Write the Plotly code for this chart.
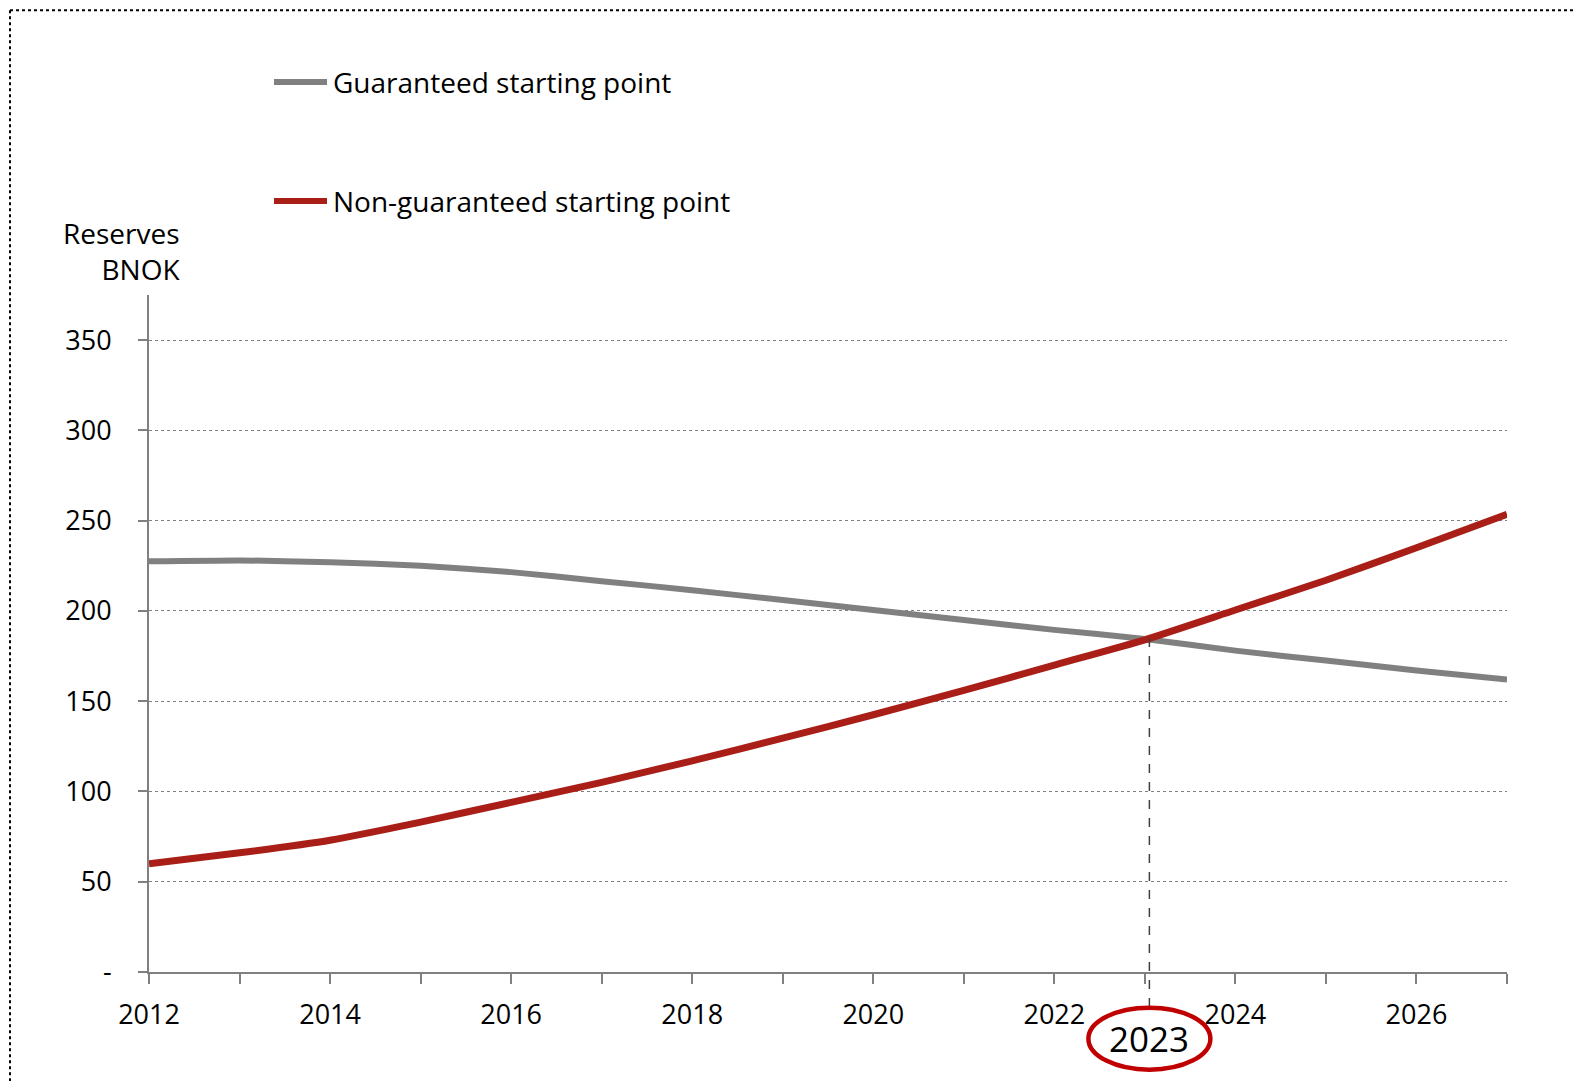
import plotly.graph_objects as go

years = list(range(2012, 2028))
guaranteed = [227.5, 228, 227, 225, 221.5, 216.5, 211.5, 206, 200.5, 195, 189.5, 184.5, 178, 172.5, 167, 162]
non_guaranteed = [60, 66, 73, 83, 94, 105, 117, 129.5, 142.5, 156, 170, 184, 200.5, 217, 235, 253.5]
series_names = ["Guaranteed starting point", "Non-guaranteed starting point"]
y_tickvals = [0, 50, 100, 150, 200, 250, 300, 350]
y_ticktext = ["-", "50", "100", "150", "200", "250", "300", "350"]
x_ticktext = [str(y) if y % 2 == 0 else "" for y in years]
highlight_year = 2023
highlight_value = 185
y_axis_title = "Reserves<br>BNOK"

GRAY = "#808080"
RED = "#A91F17"
FONT = "Open Sans"

OFF = 8  # page body margin
W, H = 1581 - OFF, 1081 - OFF
ML = 149 - OFF
MT = 295 - OFF
MR = W - (1507 - OFF)
MB = H - (972.3 - OFF)
PW, PH = W - ML - MR, H - MT - MB
YMAX = 375


def px_x(px):
    # px in page coordinates
    return (px - OFF - ML) / PW


def px_y(py):
    return (H - MB - (py - OFF)) / PH


fig = go.Figure()
fig.add_trace(go.Scatter(x=years, y=guaranteed, mode="lines", name=series_names[0],
                         line=dict(color=GRAY, width=6, shape="spline", smoothing=0.5),
                         showlegend=False))
fig.add_trace(go.Scatter(x=years, y=non_guaranteed, mode="lines", name=series_names[1],
                         line=dict(color=RED, width=7, shape="spline", smoothing=0.5),
                         showlegend=False))

shapes = []
annotations = []

# dotted frame (top and left)
shapes.append(dict(type="line", xref="paper", yref="paper", x0=px_x(10), x1=px_x(1600),
                   y0=px_y(10), y1=px_y(10), line=dict(color="black", width=2, dash="dot")))
shapes.append(dict(type="line", xref="paper", yref="paper", x0=px_x(10), x1=px_x(10),
                   y0=px_y(10), y1=px_y(1100), line=dict(color="black", width=2, dash="dot")))

# manual legend
for name, color, py in [(series_names[0], GRAY, 82), (series_names[1], RED, 201)]:
    shapes.append(dict(type="line", xref="paper", yref="paper", x0=px_x(274), x1=px_x(327),
                       y0=px_y(py), y1=px_y(py), line=dict(color=color, width=6)))
    annotations.append(dict(text=name, xref="paper", yref="paper", x=px_x(331), y=px_y(py),
                            xanchor="left", yanchor="middle", showarrow=False,
                            font=dict(family=FONT, size=28, color="black")))

# y-axis title
annotations.append(dict(text=y_axis_title, xref="paper", yref="paper", x=px_x(182), y=px_y(251),
                        xanchor="right", yanchor="middle", align="right", showarrow=False,
                        font=dict(family=FONT, size=28, color="black")))

# highlight vertical dashed line and circled year
hx = highlight_year + 0.05
shapes.append(dict(type="line", xref="x", yref="paper", x0=hx, x1=hx,
                   y0=highlight_value / YMAX, y1=px_y(1008),
                   line=dict(color="#404040", width=1.5, dash="dash")))
shapes.append(dict(type="circle", xref="x", yref="paper", xsizemode="pixel", ysizemode="pixel",
                   xanchor=hx, yanchor=px_y(1039), x0=-61, x1=61, y0=-31, y1=31,
                   line=dict(color="#C00000", width=4.5)))
annotations.append(dict(text=str(highlight_year), xref="x", yref="paper", x=hx, y=px_y(1039),
                        xanchor="center", yanchor="middle", showarrow=False,
                        font=dict(family=FONT, size=35, color="black")))

fig.update_layout(
    width=W, height=H,
    margin=dict(l=ML, r=MR, t=MT, b=MB, pad=0),
    paper_bgcolor="white", plot_bgcolor="white",
    shapes=shapes, annotations=annotations,
    font=dict(family=FONT, size=27, color="black"),
    xaxis=dict(range=[2012, 2027], tickmode="array", tickvals=years, ticktext=x_ticktext,
               showgrid=False, zeroline=False, showline=True, linecolor=GRAY, linewidth=2,
               ticks="outside", ticklen=10, tickwidth=2, tickcolor=GRAY,
               tickfont=dict(family=FONT, size=27, color="black"), ticklabelstandoff=8),
    yaxis=dict(range=[0, YMAX], tickmode="array", tickvals=y_tickvals, ticktext=y_ticktext,
               showgrid=True, gridcolor=GRAY, griddash="dot", gridwidth=1,
               zeroline=False, showline=True, linecolor=GRAY, linewidth=2,
               ticks="outside", ticklen=9, tickwidth=2, tickcolor=GRAY,
               tickfont=dict(family=FONT, size=27, color="black"), ticklabelstandoff=21),
)

fig.write_html("out.html")
